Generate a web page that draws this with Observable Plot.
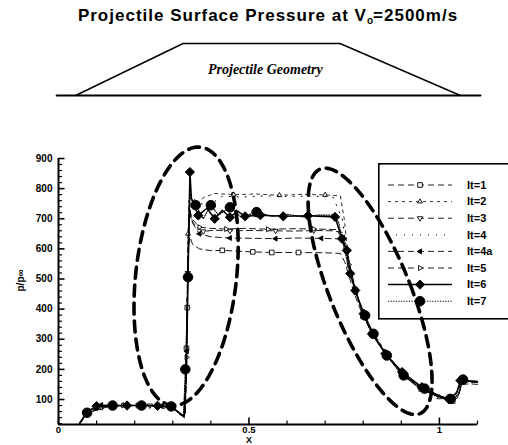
<!DOCTYPE html>
<html><head><meta charset="utf-8">
<script src="https://cdn.jsdelivr.net/npm/d3@7"></script>
<script src="https://cdn.jsdelivr.net/npm/@observablehq/plot@0.6"></script>
<style>
html,body{margin:0;padding:0;background:#fff;}
#wrap{position:relative;width:508px;height:445px;overflow:hidden;background:#fff;font-family:"Liberation Sans",Arial,sans-serif;}
#title{position:absolute;left:14px;width:508px;top:6px;text-align:center;font-weight:bold;font-size:17px;letter-spacing:1px;line-height:20px;color:#000;white-space:nowrap;}
#title sub{font-size:10px;vertical-align:-3px;line-height:0;letter-spacing:0;}
.abs{position:absolute;left:0;}
</style>
</head><body>
<div id="wrap">
  <div id="title">Projectile Surface Pressure at V<sub>o</sub>=2500m/s</div>
  <div id="geo" class="abs" style="top:28px"></div>
  <div id="main" class="abs" style="top:140px"></div>
</div>
<script>
// ---------- data ----------
const titleText = "Projectile Surface Pressure at Vo=2500m/s";
const geoLabel = "Projectile Geometry";
const xLabel = "X";
const yLabel = "p/p\u221E";
const xDomain = [0, 1.1];
const yDomain = [17, 900];
const xMajor = [0, 0.5, 1];
const xMajorLabels = ["0", "0.5", "1"];
const xMinor = [0.1, 0.2, 0.3, 0.4, 0.6, 0.7, 0.8, 0.9, 1.1];
const yMajor = [100, 200, 300, 400, 500, 600, 700, 800, 900];
const yMinor = [20, 40, 60, 80, 120, 140, 160, 180, 220, 240, 260, 280, 320, 340, 360, 380, 420, 440, 460, 480,
  520, 540, 560, 580, 620, 640, 660, 680, 720, 740, 760, 780, 820, 840, 860, 880];

// projectile outline (same x units as the pressure plot, height normalised)
const geoX = [0.045, 0.327, 0.739, 1.055];
const geoY = [0, 1, 1, 0];
const baseX = [-0.005, 1.108];
const baseY = [0, 0];

const seriesNames = ["It=1", "It=2", "It=3", "It=4", "It=4a", "It=5", "It=6", "It=7"];

const x1 = [0.055,0.075,0.11,0.16,0.21,0.26,0.296,0.318,0.331,0.334,0.336,0.338,0.341,0.345,0.352,0.37,0.40,0.43,0.51,0.56,0.63,0.70,0.74,0.752,0.765,0.78,0.80,0.83,0.865,0.91,0.96,1.00,1.035,1.05,1.058,1.08,1.10];
const y1 = [18,48,74,79,80,78,76,52,38,110,270,405,600,640,615,600,594,595,590,588,588,587,585,555,500,440,375,305,240,178,130,106,95,108,150,152,150];
const m1 = [2,4,10,11,17,18,19,20,26,29,32];

const x2 = [0.055,0.075,0.12,0.17,0.23,0.28,0.30,0.32,0.332,0.336,0.340,0.344,0.35,0.365,0.38,0.41,0.46,0.52,0.58,0.64,0.70,0.74,0.75,0.762,0.78,0.80,0.83,0.865,0.91,0.96,1.00,1.035,1.05,1.06,1.08,1.10];
const y2 = [20,55,78,81,80,79,74,50,44,300,650,790,770,745,770,784,780,782,778,781,779,776,700,560,455,385,315,245,182,134,107,98,118,160,158,155];
const m2 = [3,10,13,16,18,20,24,27,30];

const x3 = [0.055,0.075,0.12,0.18,0.24,0.29,0.318,0.330,0.335,0.339,0.343,0.348,0.36,0.38,0.41,0.45,0.50,0.57,0.62,0.67,0.72,0.745,0.755,0.765,0.78,0.80,0.825,0.86,0.90,0.95,1.00,1.03,1.05,1.06,1.08,1.10];
const y3 = [20,56,77,80,80,77,54,44,220,520,760,700,672,658,662,660,661,660,659,661,660,655,610,545,465,380,315,248,184,136,108,99,115,162,160,157];
const m3 = [4,9,13,15,17,19,24,27,29];

const x4 = [0.055,0.08,0.13,0.20,0.27,0.30,0.32,0.333,0.337,0.342,0.346,0.36,0.39,0.43,0.48,0.54,0.60,0.66,0.72,0.745,0.76,0.78,0.80,0.83,0.87,0.92,0.97,1.02,1.045,1.06,1.08,1.10];
const y4 = [20,60,80,80,79,76,52,45,350,720,780,760,740,775,772,776,774,775,773,700,560,455,385,305,232,168,124,100,112,160,158,156];
const m4 = [];

const x4a = [0.055,0.075,0.112,0.16,0.22,0.27,0.30,0.32,0.333,0.337,0.341,0.345,0.35,0.37,0.40,0.45,0.51,0.57,0.63,0.69,0.74,0.755,0.765,0.78,0.80,0.825,0.86,0.90,0.95,1.00,1.03,1.05,1.06,1.08,1.10];
const y4a = [20,58,82,80,80,78,75,50,46,260,640,720,690,650,640,636,635,634,636,635,633,600,540,462,382,318,250,186,138,110,100,116,164,160,158];
const m4a = [2,5,9,13,15,17,19,23,26,28];

const x5 = [0.055,0.075,0.12,0.17,0.23,0.28,0.30,0.32,0.332,0.336,0.340,0.344,0.35,0.37,0.40,0.44,0.49,0.55,0.61,0.67,0.73,0.75,0.762,0.78,0.80,0.825,0.86,0.90,0.95,1.00,1.03,1.05,1.06,1.08,1.10];
const y5 = [20,57,79,80,81,78,75,48,44,240,600,740,700,672,668,666,668,665,667,666,664,620,548,460,381,316,248,183,135,107,98,113,161,159,156];
const m5 = [3,5,9,13,15,17,19,22,25,28,30];

const x6 = [0.055,0.075,0.10,0.14,0.18,0.22,0.26,0.296,0.318,0.330,0.336,0.340,0.345,0.349,0.367,0.39,0.41,0.43,0.45,0.47,0.49,0.53,0.59,0.655,0.726,0.744,0.757,0.766,0.779,0.801,0.823,0.858,0.902,0.954,1.000,1.024,1.045,1.055,1.07,1.10];
const y6 = [20,60,78,80,80,80,79,77,55,45,200,500,855,767,711,735,700,728,705,725,708,712,708,710,706,634,595,518,462,385,318,252,191,141,112,102,120,163,162,160];
const m6 = [2,4,6,12,14,16,18,20,21,22,23,24,25,26,27,28,29,30,31,32,33,35,37];

const x7 = [0.055,0.075,0.142,0.218,0.296,0.318,0.328,0.333,0.340,0.345,0.36,0.38,0.40,0.42,0.45,0.48,0.52,0.56,0.60,0.64,0.68,0.72,0.735,0.75,0.765,0.785,0.805,0.827,0.862,0.906,0.961,1.000,1.029,1.045,1.062,1.08,1.10];
const y7 = [22,56,80,80,77,55,45,200,506,772,745,700,745,712,738,705,722,708,715,706,712,712,690,600,520,440,379,318,246,180,136,112,102,125,166,162,160];
const m7 = [1,2,3,4,7,8,10,12,14,16,26,27,28,29,30,32,34];

// highlight ellipses (centre, half-width, shear, half-height in data units)
const ellCx = [0.335, 0.818];
const ellCy = [509, 459];
const ellA = [0.133, 0.112];
const ellS = [0.032, -0.118];
const ellB = [429, 409];

// ---------- symbols ----------
function tri(dir) {
  return {draw(ctx, size) {
    const r = Math.sqrt(size / Math.PI) * 1.15;
    const h = r * 0.87;
    const pts = {
      up: [[0, -r], [h, r / 2], [-h, r / 2]],
      down: [[0, r], [h, -r / 2], [-h, -r / 2]],
      left: [[-r, 0], [r / 2, -h], [r / 2, h]],
      right: [[r, 0], [-r / 2, -h], [-r / 2, h]]
    }[dir];
    ctx.moveTo(pts[0][0], pts[0][1]);
    ctx.lineTo(pts[1][0], pts[1][1]);
    ctx.lineTo(pts[2][0], pts[2][1]);
    ctx.closePath();
  }};
}
const tickRight = {draw(ctx, size) { const L = Math.sqrt(size / Math.PI); ctx.moveTo(0, 0); ctx.lineTo(L, 0); }};
const tickUp = {draw(ctx, size) { const L = Math.sqrt(size / Math.PI); ctx.moveTo(0, 0); ctx.lineTo(0, -L); }};

const styles = [
  {dash: "6,4", w: 0.9, sym: d3.symbolSquare, r: 2.6, fill: "white"},
  {dash: "3,4", w: 0.8, sym: tri("up"), r: 2.4, fill: "white"},
  {dash: "6,4", w: 0.9, sym: tri("down"), r: 2.6, fill: "white"},
  {dash: "1,7", w: 1, sym: null, r: 0, fill: "none"},
  {dash: "6,4", w: 0.9, sym: tri("left"), r: 2.5, fill: "black"},
  {dash: "6,4", w: 0.9, sym: tri("right"), r: 2.5, fill: "white"},
  {dash: null, w: 1.5, sym: d3.symbolDiamond2, r: 4.2, fill: "black"},
  {dash: "1.2,1.4", w: 1.1, sym: d3.symbolCircle, r: 4.8, fill: "black"}
];

const xs = [x1, x2, x3, x4, x4a, x5, x6, x7];
const ys = [y1, y2, y3, y4, y4a, y5, y6, y7];
const ms = [m1, m2, m3, m4, m4a, m5, m6, m7];

// ---------- geometry plot ----------
const geoRows = geoX.map((x, i) => ({x, y: geoY[i]}));
const baseRows = baseX.map((x, i) => ({x, y: baseY[i]}));
const geo = Plot.plot({
  width: 508, height: 75,
  marginLeft: 58, marginRight: 31, marginTop: 15, marginBottom: 8,
  x: {domain: xDomain, axis: null},
  y: {domain: [0, 1], axis: null},
  marks: [
    Plot.line(baseRows, {x: "x", y: "y", stroke: "black", strokeWidth: 1.8}),
    Plot.line(geoRows, {x: "x", y: "y", stroke: "black", strokeWidth: 1.4, curve: "linear"}),
    Plot.text([geoLabel], {x: () => (geoX[1] + geoX[2]) / 2 + 0.01, y: () => 0.5, text: d => d,
      fontFamily: "Liberation Serif, Times New Roman, serif", fontStyle: "italic", fontWeight: "bold", fontSize: 14, fill: "black"})
  ]
});
document.getElementById("geo").appendChild(geo);

// ---------- main plot ----------
const ellRows = [];
ellCx.forEach((cx, k) => {
  for (let i = 0; i <= 200; i++) {
    const t = (i / 200) * 2 * Math.PI;
    ellRows.push({k, x: cx + ellA[k] * Math.cos(t) + ellS[k] * Math.sin(t), y: ellCy[k] + ellB[k] * Math.sin(t)});
  }
});

const marks = [];
marks.push(Plot.line(ellRows, {x: "x", y: "y", z: "k", stroke: "black", strokeWidth: 3.6, strokeDasharray: "11,7"}));

xs.forEach((xarr, s) => {
  const st = styles[s];
  const rows = xarr.map((x, i) => ({x, y: ys[s][i]}));
  marks.push(Plot.line(rows, {x: "x", y: "y", stroke: "black", strokeWidth: st.w, strokeDasharray: st.dash || undefined}));
  if (st.sym) {
    const mrows = ms[s].map(i => rows[i]);
    marks.push(Plot.dot(mrows, {x: "x", y: "y", symbol: st.sym, r: st.r, fill: st.fill, stroke: "black", strokeWidth: 0.9}));
  }
});

// axes
marks.push(Plot.ruleX([xDomain[0]], {y1: yDomain[0], y2: yDomain[1], stroke: "black", strokeWidth: 2}));
marks.push(Plot.ruleY([yDomain[0]], {x1: xDomain[0], x2: xDomain[1], stroke: "black", strokeWidth: 2}));
marks.push(Plot.dot(yMajor, {x: () => xDomain[0], y: d => d, symbol: tickRight, r: 6, stroke: "black", strokeWidth: 1.6, fill: "none"}));
marks.push(Plot.dot(yMinor, {x: () => xDomain[0], y: d => d, symbol: tickRight, r: 3.5, stroke: "black", strokeWidth: 1.2, fill: "none"}));
marks.push(Plot.dot(xMajor, {x: d => d, y: () => yDomain[0], symbol: tickUp, r: 7, stroke: "black", strokeWidth: 1.6, fill: "none"}));
marks.push(Plot.dot(xMinor, {x: d => d, y: () => yDomain[0], symbol: tickUp, r: 4, stroke: "black", strokeWidth: 1.2, fill: "none"}));
marks.push(Plot.text(yMajor, {x: () => xDomain[0], y: d => d, text: d => String(d), dx: -6, textAnchor: "end",
  fontWeight: "bold", fontSize: 10, fill: "black"}));
marks.push(Plot.text(xMajor, {x: d => d, y: () => yDomain[0], text: (d, i) => xMajorLabels[i], dy: 5,
  fontWeight: "bold", fontSize: 9.5, fill: "black"}));
marks.push(Plot.text([xLabel], {x: () => xMajor[1], frameAnchor: "bottom", text: d => d, dy: 18.5,
  fontWeight: "bold", fontSize: 9, fill: "black"}));
marks.push(Plot.text([yLabel], {frameAnchor: "left", text: d => d, dx: -38, rotate: -90,
  fontWeight: "bold", fontSize: 10, fill: "black"}));

const main = Plot.plot({
  width: 508, height: 305,
  marginLeft: 58, marginRight: 31, marginTop: 18, marginBottom: 21,
  style: {fontFamily: "Liberation Sans, Arial, sans-serif", overflow: "visible", background: "transparent"},
  x: {domain: xDomain, axis: null},
  y: {domain: yDomain, axis: null},
  marks
});
document.getElementById("main").appendChild(main);

// ---------- legend ----------
const lg = d3.select("#wrap").append("svg")
  .style("position", "absolute").style("left", "378px").style("top", "163px")
  .attr("width", 140).attr("height", 158)
  .style("font-family", "Liberation Sans, Arial, sans-serif");
lg.append("rect").attr("x", 0.8).attr("y", 0.8).attr("width", 170).attr("height", 155)
  .attr("fill", "none").attr("stroke", "black").attr("stroke-width", 1.6);
seriesNames.forEach((name, i) => {
  const st = styles[i];
  const yy = 22 + i * 16.6;
  lg.append("line").attr("x1", 10).attr("x2", 74).attr("y1", yy).attr("y2", yy)
    .attr("stroke", "black").attr("stroke-width", st.w).attr("stroke-dasharray", st.dash);
  if (st.sym) {
    lg.append("path").attr("transform", `translate(42,${yy})`)
      .attr("d", d3.symbol(st.sym, Math.PI * st.r * st.r)())
      .attr("fill", st.fill).attr("stroke", "black").attr("stroke-width", 0.9);
  }
  lg.append("text").attr("x", 89).attr("y", yy).attr("dy", "0.35em")
    .attr("font-size", 11).attr("font-weight", "bold").text(name);
});
</script>
</body></html>
